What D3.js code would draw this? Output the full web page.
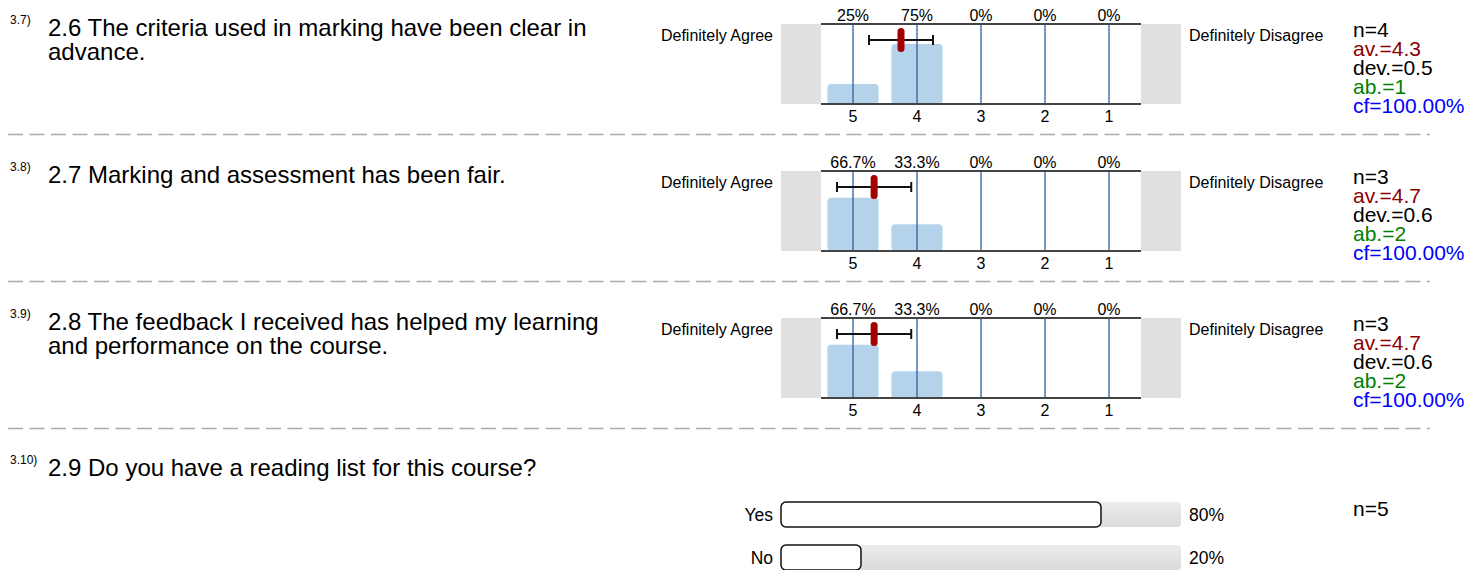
<!DOCTYPE html>
<html>
<head>
<meta charset="utf-8">
<script src="https://cdn.jsdelivr.net/npm/d3@7"></script>
<style>
  body { margin: 0; background: #fff; }
  text { font-family: "Liberation Sans", Arial, sans-serif; }
</style>
</head>
<body>
<script>
// survey items
const itemNumbers = ["3.7)", "3.8)", "3.9)"];
const questionLines = [
  ["2.6 The criteria used in marking have been clear in", "advance."],
  ["2.7 Marking and assessment has been fair."],
  ["2.8 The feedback I received has helped my learning", "and performance on the course."]
];
const scaleValues = [5, 4, 3, 2, 1];
const pctSeries = [
  [25, 75, 0, 0, 0],
  [66.7, 33.3, 0, 0, 0],
  [66.7, 33.3, 0, 0, 0]
];
const nValues = [4, 3, 3];
const means = [4.25, 4.67, 4.67];
const devs = [0.5, 0.58, 0.58];
const abstentions = [1, 2, 2];
const cfValues = ["100.00%", "100.00%", "100.00%"];

// last item (yes / no)
const lastNumber = "3.10)";
const lastQuestion = "2.9 Do you have a reading list for this course?";
const yesNoLabels = ["Yes", "No"];
const yesNoPct = [80, 20];
const lastN = 5;

const width = 1469, height = 570;
const svg = d3.select("body").append("svg")
  .attr("width", width)
  .attr("height", height);

const defs = svg.append("defs");
const grad = defs.append("linearGradient")
  .attr("id", "track").attr("x1", 0).attr("y1", 0).attr("x2", 0).attr("y2", 1);
grad.append("stop").attr("offset", "0%").attr("stop-color", "#ececec");
grad.append("stop").attr("offset", "100%").attr("stop-color", "#dadada");

const xband = d3.scaleBand()
  .domain(scaleValues)
  .range([821, 1141])
  .paddingInner(0.2)
  .paddingOuter(0.1);

const xmean = d3.scaleLinear()
  .domain([5, 1])
  .range([xband(5) + xband.bandwidth() / 2, xband(1) + xband.bandwidth() / 2]);

const fmt1 = d3.format(".1f");
const panelStep = 147;

pctSeries.forEach((pcts, i) => {
  const top = 24 + i * panelStep;
  const bottom = top + 80;
  const g = svg.append("g");

  const yscale = d3.scaleLinear().domain([0, 100]).range([bottom, top]);

  // item number + question
  g.append("text")
    .attr("x", 10).attr("y", top - 4)
    .attr("dy", "0.35em")
    .attr("font-size", "12px")
    .text(itemNumbers[i]);

  g.selectAll("text.q")
    .data(questionLines[i])
    .enter().append("text")
    .attr("class", "q")
    .attr("x", 48)
    .attr("y", (d, k) => top + 4 + k * 24)
    .attr("dy", "0.35em")
    .attr("font-size", "24px")
    .text(d => d);

  // side boxes
  g.append("rect")
    .attr("x", 781).attr("y", top).attr("width", 40).attr("height", 80)
    .attr("fill", "#e0e0e0");
  g.append("rect")
    .attr("x", 1141).attr("y", top).attr("width", 40).attr("height", 80)
    .attr("fill", "#e0e0e0");

  // bars
  g.selectAll("rect.bar")
    .data(pcts)
    .enter().append("rect")
    .attr("class", "bar")
    .attr("x", (d, k) => xband(scaleValues[k]))
    .attr("width", xband.bandwidth())
    .attr("y", d => yscale(d))
    .attr("height", d => bottom - yscale(d))
    .attr("rx", 4)
    .attr("fill", d => d > 0 ? "#b4d3ea" : "none");

  // vertical tick lines
  g.selectAll("line.tick")
    .data(scaleValues)
    .enter().append("line")
    .attr("x1", d => xband(d) + xband.bandwidth() / 2)
    .attr("x2", d => xband(d) + xband.bandwidth() / 2)
    .attr("y1", top).attr("y2", bottom)
    .attr("stroke", "#2c5f9c")
    .attr("stroke-width", 1.3);

  // top and bottom rules
  [top, bottom].forEach(y => {
    g.append("line")
      .attr("x1", 821).attr("x2", 1141)
      .attr("y1", y).attr("y2", y)
      .attr("stroke", "#444").attr("stroke-width", 2);
  });

  // percent labels
  g.selectAll("text.pct")
    .data(pcts)
    .enter().append("text")
    .attr("x", (d, k) => xband(scaleValues[k]) + xband.bandwidth() / 2)
    .attr("y", top - 9)
    .attr("dy", "0.35em")
    .attr("text-anchor", "middle")
    .attr("font-size", "16px")
    .text(d => d + "%");

  // scale labels
  g.selectAll("text.sv")
    .data(scaleValues)
    .enter().append("text")
    .attr("x", d => xband(d) + xband.bandwidth() / 2)
    .attr("y", bottom + 12)
    .attr("dy", "0.35em")
    .attr("text-anchor", "middle")
    .attr("font-size", "16px")
    .text(d => d);

  // pole labels
  g.append("text")
    .attr("x", 773).attr("y", top + 11)
    .attr("dy", "0.35em")
    .attr("text-anchor", "end")
    .attr("font-size", "16px")
    .text("Definitely Agree");
  g.append("text")
    .attr("x", 1189).attr("y", top + 11)
    .attr("dy", "0.35em")
    .attr("font-size", "16px")
    .text("Definitely Disagree");

  // error bar
  const ey = top + 16;
  const x0 = xmean(means[i] + devs[i]), x1 = xmean(means[i] - devs[i]);
  g.append("line")
    .attr("x1", x0).attr("x2", x1).attr("y1", ey).attr("y2", ey)
    .attr("stroke", "#111").attr("stroke-width", 2);
  [x0, x1].forEach(x => {
    g.append("line")
      .attr("x1", x).attr("x2", x).attr("y1", ey - 5).attr("y2", ey + 5)
      .attr("stroke", "#111").attr("stroke-width", 2);
  });
  g.append("rect")
    .attr("x", xmean(means[i]) - 3.5).attr("y", ey - 12)
    .attr("width", 7).attr("height", 24)
    .attr("rx", 3.5)
    .attr("fill", "#a30000");

  // stats
  const stats = [
    {t: "n=" + nValues[i], c: "#000"},
    {t: "av.=" + fmt1(means[i]), c: "#8b0000"},
    {t: "dev.=" + fmt1(devs[i]), c: "#000"},
    {t: "ab.=" + abstentions[i], c: "#008000"},
    {t: "cf=" + cfValues[i], c: "#0000ff"}
  ];
  g.selectAll("text.st")
    .data(stats)
    .enter().append("text")
    .attr("x", 1353)
    .attr("y", (d, k) => top + 6 + k * 19)
    .attr("dy", "0.35em")
    .attr("font-size", "21px")
    .attr("fill", d => d.c)
    .text(d => d.t);

  // separator
  g.append("line")
    .attr("x1", 8).attr("x2", 1430)
    .attr("y1", top + 110.5).attr("y2", top + 110.5)
    .attr("stroke", "#aaa").attr("stroke-width", 1.5)
    .attr("stroke-dasharray", "15,6.5");
});

// last question
const g4 = svg.append("g");
g4.append("text")
  .attr("x", 10).attr("y", 460)
  .attr("dy", "0.35em")
  .attr("font-size", "12px")
  .text(lastNumber);
g4.append("text")
  .attr("x", 48).attr("y", 468)
  .attr("dy", "0.35em")
  .attr("font-size", "24px")
  .text(lastQuestion);
g4.append("text")
  .attr("x", 1353).attr("y", 509)
  .attr("dy", "0.35em")
  .attr("font-size", "21px")
  .text("n=" + lastN);

const xh = d3.scaleLinear().domain([0, 100]).range([781, 1181]);
const yh = d3.scaleBand().domain(yesNoLabels).range([502, 570]).paddingInner(18 / 43);

yesNoLabels.forEach((lab, k) => {
  const y = yh(lab), h = yh.bandwidth();
  g4.append("rect")
    .attr("x", xh(0)).attr("y", y).attr("width", xh(100) - xh(0)).attr("height", h)
    .attr("rx", 4).attr("fill", "url(#track)");
  g4.append("rect")
    .attr("x", xh(0)).attr("y", y).attr("width", xh(yesNoPct[k]) - xh(0)).attr("height", h)
    .attr("rx", 5).attr("fill", "#fff")
    .attr("stroke", "#111").attr("stroke-width", 1.5);
  g4.append("text")
    .attr("x", 773).attr("y", y + h / 2)
    .attr("dy", "0.35em").attr("text-anchor", "end")
    .attr("font-size", "17.5px")
    .text(lab);
  g4.append("text")
    .attr("x", 1189).attr("y", y + h / 2)
    .attr("dy", "0.35em")
    .attr("font-size", "17.5px")
    .text(yesNoPct[k] + "%");
});
</script>
</body>
</html>
